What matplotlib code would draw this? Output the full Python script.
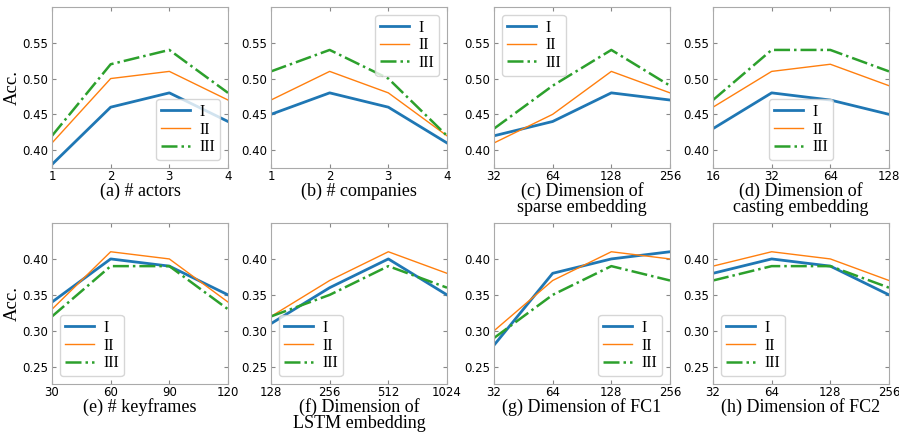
import numpy as np
import matplotlib
matplotlib.use("Agg")
import matplotlib.pyplot as plt

SERIF = ["Liberation Serif", "DejaVu Serif"]
plt.rcParams["font.family"] = ["DejaVu Sans"]
plt.rcParams["xtick.direction"] = "in"
plt.rcParams["ytick.direction"] = "in"
plt.rcParams["xtick.top"] = True
plt.rcParams["ytick.right"] = True

series = ["I", "II", "III"]

# top row
xt_a = ["1", "2", "3", "4"]
a_I = [0.38, 0.46, 0.48, 0.44]
a_II = [0.41, 0.50, 0.51, 0.47]
a_III = [0.42, 0.52, 0.54, 0.48]

xt_b = ["1", "2", "3", "4"]
b_I = [0.45, 0.48, 0.46, 0.41]
b_II = [0.47, 0.51, 0.48, 0.42]
b_III = [0.51, 0.54, 0.50, 0.42]

xt_c = ["32", "64", "128", "256"]
c_I = [0.42, 0.44, 0.48, 0.47]
c_II = [0.41, 0.45, 0.51, 0.48]
c_III = [0.43, 0.49, 0.54, 0.49]

xt_d = ["16", "32", "64", "128"]
d_I = [0.43, 0.48, 0.47, 0.45]
d_II = [0.46, 0.51, 0.52, 0.49]
d_III = [0.47, 0.54, 0.54, 0.51]

# bottom row
xt_e = ["30", "60", "90", "120"]
e_I = [0.34, 0.40, 0.39, 0.35]
e_II = [0.33, 0.41, 0.40, 0.34]
e_III = [0.32, 0.39, 0.39, 0.33]

xt_f = ["128", "256", "512", "1024"]
f_I = [0.31, 0.36, 0.40, 0.35]
f_II = [0.32, 0.37, 0.41, 0.38]
f_III = [0.32, 0.35, 0.39, 0.36]

xt_g = ["32", "64", "128", "256"]
g_I = [0.28, 0.38, 0.40, 0.41]
g_II = [0.30, 0.37, 0.41, 0.40]
g_III = [0.29, 0.35, 0.39, 0.37]

xt_h = ["32", "64", "128", "256"]
h_I = [0.38, 0.40, 0.39, 0.35]
h_II = [0.39, 0.41, 0.40, 0.37]
h_III = [0.37, 0.39, 0.39, 0.36]

titles = ["(a) # actors", "(b) # companies",
          "(c) Dimension of\nsparse embedding", "(d) Dimension of\ncasting embedding",
          "(e) # keyframes", "(f) Dimension of\nLSTM embedding",
          "(g) Dimension of FC1", "(h) Dimension of FC2"]

panels = [
    (xt_a, a_I, a_II, a_III, "lower right"),
    (xt_b, b_I, b_II, b_III, "upper right"),
    (xt_c, c_I, c_II, c_III, "upper left"),
    (xt_d, d_I, d_II, d_III, "lower center"),
    (xt_e, e_I, e_II, e_III, "lower left"),
    (xt_f, f_I, f_II, f_III, "lower left"),
    (xt_g, g_I, g_II, g_III, "lower right"),
    (xt_h, h_I, h_II, h_III, "lower left"),
]

W, H = 899, 437
fig = plt.figure(figsize=(W / 100, H / 100), dpi=100)
lefts = [52, 271, 494, 713]
aw = 176
rows = [(7, 168), (223, 384)]

for k, (xt, s1, s2, s3, loc) in enumerate(panels):
    r, c = divmod(k, 4)
    top, bot = rows[r]
    ax = fig.add_axes([lefts[c] / W, 1 - bot / H, aw / W, (bot - top) / H])
    x = np.arange(len(xt))
    ax.plot(x, s1, color="#1f77b4", lw=2.0, label="I")
    ax.plot(x, s2, color="#ff7f0e", lw=1.0, label="II")
    ax.plot(x, s3, color="#2ca02c", lw=1.8, ls="-.", label="III")
    ax.set_xlim(0, 3)
    ax.set_xticks(x)
    ax.set_xticklabels(xt)
    if r == 0:
        ax.set_ylim(0.375, 0.60)
        ax.set_yticks([0.40, 0.45, 0.50, 0.55])
    else:
        ax.set_ylim(0.226, 0.45)
        ax.set_yticks([0.25, 0.30, 0.35, 0.40])
    ax.tick_params(labelsize=8.5, length=3, width=0.8, color="#888888", pad=3)
    ax.tick_params(axis="x", pad=1.5)
    for sp in ax.spines.values():
        sp.set_color("#aaaaaa")
    ax.set_xlabel(titles[k], family=SERIF, fontsize=13, labelpad=-0.5, linespacing=0.92)
    if c == 0:
        ax.set_ylabel("Acc.", family=SERIF, fontsize=13.5, labelpad=1)
    leg = ax.legend(loc=loc, prop={"family": SERIF, "size": 11.5}, handlelength=1.8,
                    handletextpad=0.6, labelspacing=0.1, borderpad=0.3,
                    framealpha=0.8, fancybox=True)
    leg.get_frame().set_edgecolor("#cccccc")

fig.savefig("out.png", dpi=100)
